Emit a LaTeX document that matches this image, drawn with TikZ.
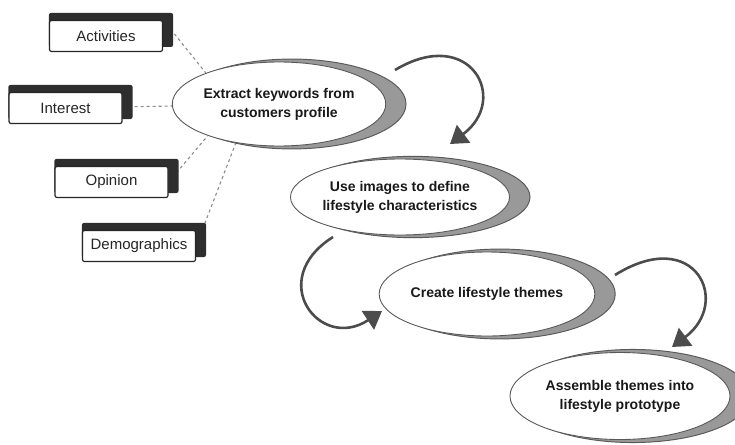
\documentclass[tikz,border=0pt]{standalone}
\usepackage{fontspec}
\setmainfont{Liberation Sans}
\usetikzlibrary{arrows.meta,shapes.geometric,shadows,backgrounds}

\begin{document}
\begin{tikzpicture}[x=1pt, y=-1pt,
    stage/.style = {ellipse, draw=black!65, line width=0.9pt, fill=white, inner sep=0pt, align=center, text=black!90, font=\fontsize{14}{19}\selectfont\bfseries, general shadow={fill=black!40, draw=black!65, line width=0.9pt, shadow xshift=12pt, shadow scale=1.07}},
    factor/.style = {rectangle, draw=black!85, line width=1.2pt, fill=white, rounded corners=2pt, minimum width=113pt, minimum height=31pt, inner sep=0pt, text=black!85, font=\fontsize{15}{18}\selectfont, general shadow={fill=black!82, rounded corners=3pt, shadow xshift=4.5pt, shadow yshift=5.5pt, shadow scale=1.1}},
    flow/.style = {line width=2.6pt, black!70, -{Triangle[length=17pt,width=22pt]}},
    link/.style = {black!45, line width=1.1pt, dash pattern=on 3pt off 3pt}]

    \useasboundingbox (0,0) rectangle (735,444);

    % stages
    \node[stage, minimum width=208pt, minimum height=84pt] (kw) at (279,104) {Extract keywords from\\customers profile};
    \node[stage, minimum width=215pt, minimum height=76pt] (img) at (400,197) {Use images to define\\lifestyle characteristics};
    \node[stage, minimum width=210pt, minimum height=84pt] (thm) at (487,294) {Create lifestyle themes};
    \node[stage, minimum width=220pt, minimum height=87pt] (proto) at (620,396) {Assemble themes into\\lifestyle prototype};

    % profile factors
    \node[factor] (act) at (106,36) {Activities};
    \node[factor] (intr) at (65.5,108) {Interest};
    \node[factor] (opn) at (111.5,182) {Opinion};
    \node[factor] (demo) at (139,246) {Demographics};

    \begin{scope}[on background layer]
    \draw[link] (act.north east) -- (kw.157);
    \draw[link] (intr) -- (kw);
    \draw[link] (opn.east) -- (kw.204);
    \draw[link] (demo.east) -- (kw.222);
    \end{scope}

    % flow arrows
    \draw[flow] ([shift={(116,-34)}]kw.center) .. controls +(75,-45) and +(60,-45) .. ([shift={(50,-53)}]img.center);
    \draw[flow] ([shift={(-67,40)}]img.center) .. controls +(-68,43) and +(-62,41) .. ([shift={(-105,17)}]thm.center);
    \draw[flow] ([shift={(128,-19)}]thm.center) .. controls +(80,-50) and +(60,-45) .. ([shift={(52,-49)}]proto.center);

\end{tikzpicture}
\end{document}
